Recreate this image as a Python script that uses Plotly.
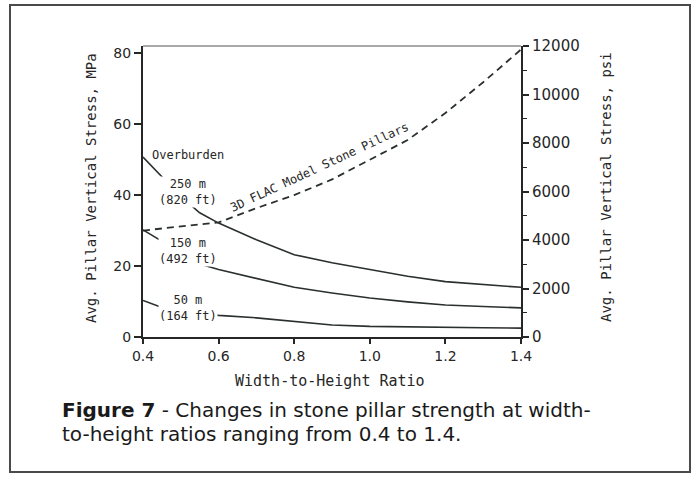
import plotly.graph_objects as go

# Width-to-height ratio sampled along the depth curves
ratio = [0.4, 0.45, 0.5, 0.55, 0.6, 0.7, 0.8, 0.9, 1.0, 1.1, 1.2, 1.3, 1.4]
# Average pillar vertical stress (MPa) for each depth of cover
stress_250m = [50.7, 45.0, 39.6, 35.0, 32.1, 27.4, 23.2, 20.9, 18.9, 17.1, 15.6, 14.7, 14.0]
stress_150m = [30.2, 27.0, 23.8, 20.6, 19.0, 16.6, 14.0, 12.4, 11.0, 9.9, 9.0, 8.6, 8.2]
stress_50m = [10.3, 8.3, 7.2, 6.6, 6.1, 5.4, 4.4, 3.4, 3.0, 2.8, 2.7, 2.6, 2.5]

# 3D FLAC model stone pillar strength (MPa)
flac_ratio = [0.4, 0.5, 0.6, 0.7, 0.8, 0.9, 1.0, 1.1, 1.2, 1.3, 1.4]
flac_stress = [30.0, 31.1, 32.3, 36.3, 40.0, 44.4, 49.9, 55.5, 63.1, 71.8, 81.0]

x_ticks = [0.4, 0.6, 0.8, 1.0, 1.2, 1.4]
x_tick_text = ["0.4", "0.6", "0.8", "1.0", "1.2", "1.4"]
mpa_ticks = [0, 20, 40, 60, 80]
psi_ticks = [0, 2000, 4000, 6000, 8000, 10000, 12000]
psi_tick_text = ["0", "2000", "4000", "6000", "8000", "10000", "12000"]

INK = "#262626"
LINE = "#2a302e"

W, H = 696, 479
L, R, T, B = 143, 521, 46, 337  # plot area in pixels


def px(xp):
    return (xp - L) / (R - L)


def py(yp):
    return (B - yp) / (B - T)


fig = go.Figure()

for series in (stress_250m, stress_150m, stress_50m):
    fig.add_trace(go.Scatter(x=ratio, y=series, mode="lines",
                             line=dict(color=LINE, width=1.6),
                             hoverinfo="skip"))

fig.add_trace(go.Scatter(x=flac_ratio, y=flac_stress, mode="lines",
                         line=dict(color=LINE, width=1.8, dash="7px,5px"),
                         hoverinfo="skip"))

# carrier for the psi axis on the right
fig.add_trace(go.Scatter(x=[0.4], y=[0], yaxis="y2", mode="markers",
                         marker=dict(opacity=0), hoverinfo="skip"))

tick_font = dict(family="DejaVu Sans", size=14, color=INK)

fig.update_layout(
    width=W, height=H, autosize=False,
    margin=dict(l=L, r=W - R, t=T, b=H - B, pad=0),
    paper_bgcolor="white", plot_bgcolor="white",
    showlegend=False,
    xaxis=dict(range=[0.4, 1.4], tickvals=x_ticks, ticktext=x_tick_text,
               showline=True, linecolor=INK, linewidth=2, ticks="outside",
               ticklen=5, tickwidth=1.5, tickcolor=INK, showgrid=False,
               zeroline=False, tickfont=tick_font),
    yaxis=dict(range=[0, 82], tickvals=mpa_ticks, showline=True,
               linecolor=INK, linewidth=2, ticks="outside", ticklen=7,
               tickwidth=1.5, tickcolor=INK, showgrid=False, zeroline=False,
               tickfont=tick_font),
    yaxis2=dict(range=[0, 12000], tickvals=psi_ticks, ticktext=psi_tick_text,
                overlaying="y", side="right", anchor="x", showline=True,
                linecolor=INK, linewidth=2, ticks="outside", ticklen=6,
                tickwidth=1.5, tickcolor=INK, showgrid=False, zeroline=False,
                tickfont=dict(family="DejaVu Sans", size=15, color=INK),
                minor=dict(dtick=1000, ticks="outside", ticklen=4,
                           tickwidth=1.2, tickcolor=INK)),
)

# thin top border of the plot box and the outer figure frame
fig.add_shape(type="line", xref="paper", yref="paper", x0=0, x1=1, y0=1, y1=1,
              line=dict(color="#555", width=1.2))
fig.add_shape(type="rect", xref="paper", yref="paper",
              x0=px(10), x1=px(690), y0=py(472), y1=py(5),
              line=dict(color="#4a4a4a", width=2))

label_font = dict(family="DejaVu Sans Mono", size=12, color=INK)

fig.add_annotation(x=0.418, y=51.4, text="Overburden", showarrow=False,
                   xanchor="left", yanchor="middle",
                   font=dict(family="DejaVu Sans Mono", size=12, color=INK))
for yv, txt in ((40.8, "250 m<br>(820 ft)"),
                (24.2, "150 m<br>(492 ft)"),
                (8.2, "50 m<br>(164 ft)")):
    fig.add_annotation(x=0.52, y=yv, text=txt, showarrow=False,
                       xanchor="center", yanchor="middle", bgcolor="white",
                       borderpad=0, font=label_font)

fig.add_annotation(x=0.868, y=47.8, text="3D FLAC Model Stone Pillars",
                   showarrow=False, textangle=-25, xanchor="center",
                   yanchor="middle",
                   font=dict(family="DejaVu Sans Mono", size=12, color=INK))

# axis titles
title_font = dict(family="DejaVu Sans Mono", size=14, color=INK)
fig.add_annotation(xref="paper", yref="paper", x=px(330), y=py(381),
                   xanchor="center", yanchor="middle",
                   text="Width-to-Height Ratio", showarrow=False,
                   font=dict(family="DejaVu Sans Mono", size=15, color=INK))
fig.add_annotation(xref="paper", yref="paper", x=px(91), y=py(188),
                   xanchor="center", yanchor="middle",
                   text="Avg. Pillar Vertical Stress, MPa", showarrow=False,
                   textangle=-90, font=title_font)
fig.add_annotation(xref="paper", yref="paper", x=px(606), y=py(187),
                   xanchor="center", yanchor="middle",
                   text="Avg. Pillar Vertical Stress, psi", showarrow=False,
                   textangle=-90, font=title_font)

# figure caption, two lines
cap_font = dict(family="DejaVu Sans", size=20, color="#1a1a1a")
fig.add_annotation(xref="paper", yref="paper", x=px(60), y=py(410),
                   xanchor="left", yanchor="middle", align="left",
                   text="<b>Figure 7</b> - Changes in stone pillar strength at width-",
                   showarrow=False, font=cap_font)
fig.add_annotation(xref="paper", yref="paper", x=px(60), y=py(434),
                   xanchor="left", yanchor="middle", align="left",
                   text="to-height ratios ranging from 0.4 to 1.4.",
                   showarrow=False, font=cap_font)

fig.write_html("out.html")
